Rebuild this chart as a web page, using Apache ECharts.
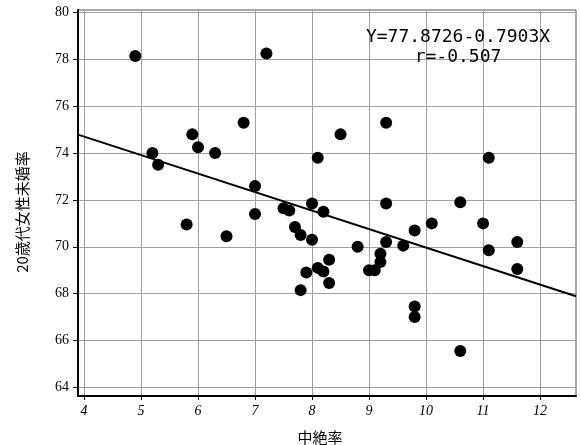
<!DOCTYPE html>
<html>
<head>
<meta charset="utf-8">
<script src="https://cdn.jsdelivr.net/npm/echarts@6/dist/echarts.min.js"></script>
<style>
html,body{margin:0;padding:0;background:#fff;}
#chart{width:581px;height:445px;}
</style>
</head>
<body>
<div id="chart"></div>
<script>
// 中絶率 (x) values
const abortionRate = [4.9, 7.2, 5.2, 5.3, 5.9, 6.0, 6.3, 6.8, 7.0, 7.0, 7.5, 7.6, 5.8, 6.5, 7.7, 7.8, 7.8, 7.9,
  8.0, 8.0, 8.1, 8.1, 8.2, 8.2, 8.3, 8.3, 8.5, 8.8, 9.0, 9.1, 9.2, 9.2, 9.3, 9.3, 9.3, 9.6,
  9.8, 9.8, 9.8, 10.1, 10.6, 10.6, 11.0, 11.1, 11.1, 11.6, 11.6];
// 20歳代女性未婚率 (y) values
const unmarriedRate = [78.15, 78.25, 74.0, 73.5, 74.8, 74.25, 74.0, 75.3, 72.6, 71.4, 71.65, 71.55, 70.95, 70.45, 70.85, 70.5, 68.15, 68.9,
  71.85, 70.3, 73.8, 69.1, 71.5, 68.95, 69.45, 68.45, 74.8, 70.0, 69.0, 69.0, 69.35, 69.7, 75.3, 71.85, 70.2, 70.05,
  70.7, 67.45, 67.0, 71.0, 71.9, 65.55, 71.0, 73.8, 69.85, 70.2, 69.05];
// regression line endpoints (consistent with Y=77.8726-0.7903X)
const lineX = [3.895, 12.63];
const lineY = [74.79, 67.89];
// tick labels
const xTicks = [4, 5, 6, 7, 8, 9, 10, 11, 12];
const yTicks = [64, 66, 68, 70, 72, 74, 76, 78, 80];
const eqText = 'Y=77.8726-0.7903X';
const rText = 'r=-0.507';
const xTitle = '中絶率';
const yTitle = '20歳代女性未婚率';

const chart = echarts.init(document.getElementById('chart'), null, {renderer: 'canvas'});
const points = abortionRate.map((x, i) => [x, unmarriedRate[i]]);
const linePts = lineX.map((x, i) => [x, lineY[i]]);

chart.setOption({
  animation: false,
  backgroundColor: '#fff',
  grid: {left: 78, right: 5, top: 10, bottom: 49, show: true, borderColor: '#555', borderWidth: 1, backgroundColor: 'transparent'},
  xAxis: {
    type: 'value', min: 3.895, max: 12.63,
    axisLine: {show: true, onZero: false, lineStyle: {color: '#000', width: 2}},
    axisTick: {show: true, length: 4, customValues: xTicks, lineStyle: {color: '#000'}},
    axisLabel: {customValues: xTicks, margin: 8, color: '#000', fontFamily: 'Liberation Serif', fontStyle: 'italic', fontSize: 14},
    splitLine: {show: true, lineStyle: {color: '#a0a0a0', width: 1}}
  },
  yAxis: {
    type: 'value', min: 63.63, max: 80.11,
    axisLine: {show: true, onZero: false, lineStyle: {color: '#000', width: 2}},
    axisTick: {show: true, length: 5, customValues: yTicks, lineStyle: {color: '#000'}},
    axisLabel: {customValues: yTicks, margin: 9, color: '#000', fontFamily: 'Liberation Serif', fontSize: 14},
    splitLine: {show: true, lineStyle: {color: '#a0a0a0', width: 1}}
  },
  series: [
    {type: 'scatter', data: points, symbol: 'circle', symbolSize: 12, itemStyle: {color: '#000', opacity: 1}, z: 3},
    {type: 'line', data: linePts, symbol: 'none', lineStyle: {color: '#000', width: 2}, z: 2}
  ],
  graphic: [
    {type: 'text', style: {text: eqText, x: 458, y: 37, align: 'center', verticalAlign: 'middle', font: '18px "DejaVu Sans Mono"', fill: '#000'}, z: 10},
    {type: 'text', style: {text: rText, x: 458, y: 57, align: 'center', verticalAlign: 'middle', font: '18px "DejaVu Sans Mono"', fill: '#000'}, z: 10},
    {type: 'text', style: {text: xTitle, x: 320, y: 437, align: 'center', verticalAlign: 'middle', font: '15px "Noto Sans CJK JP"', fill: '#000'}},
    {type: 'text', x: 22, y: 212, rotation: Math.PI / 2, style: {text: yTitle, x: 0, y: 0, align: 'center', verticalAlign: 'middle', font: '15px "Noto Sans CJK JP"', fill: '#000'}}
  ]
});
</script>
</body>
</html>
